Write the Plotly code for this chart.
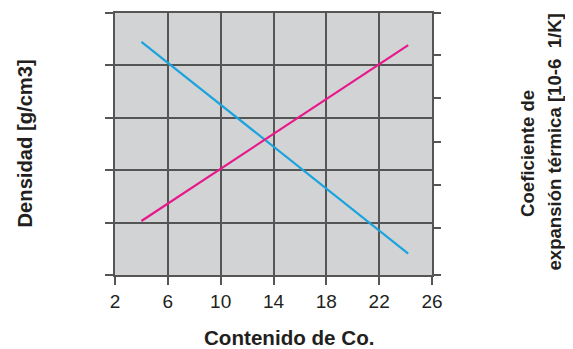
import plotly.graph_objects as go

# Data
co_content = [4.0, 24.2]
density = [4.45, 0.41]            # left axis (unlabelled units)
expansion = [1.17, 5.22]          # right axis (unlabelled units)
x_ticks = [2, 6, 10, 14, 18, 22, 26]
left_ticks = [0, 1, 2, 3, 4, 5]
right_ticks = [-0.074, 1, 2, 3, 4, 5, 5.96]

GRID = "#555555"
FONT = "Liberation Sans, Arial, Helvetica, sans-serif"
TXT = "#231f20"

fig = go.Figure()
fig.add_trace(go.Scatter(x=co_content, y=density, mode="lines",
                         line=dict(color="#1ba3dd", width=2.2), yaxis="y"))
fig.add_trace(go.Scatter(x=co_content, y=expansion, mode="lines",
                         line=dict(color="#e8178a", width=2.2), yaxis="y2"))

# page body has an 8px margin, so the figure is drawn 8px right/down
fig.update_layout(
    width=565, height=341,
    margin=dict(l=107, r=141, t=3, b=74),
    paper_bgcolor="white", plot_bgcolor="#d2d3d5",
    showlegend=False,
    font=dict(family=FONT, color=TXT),
    xaxis=dict(range=[2, 26], tickvals=x_ticks, ticktext=[str(v) for v in x_ticks],
               showgrid=True, gridcolor=GRID, gridwidth=1.5,
               showline=True, linecolor=GRID, linewidth=1.5, mirror=True,
               ticks="outside", ticklen=8, tickcolor=GRID, tickwidth=1.5,
               tickfont=dict(size=19, family=FONT), zeroline=False),
    yaxis=dict(range=[0, 5], tickvals=left_ticks, showticklabels=False,
               showgrid=True, gridcolor=GRID, gridwidth=1.5,
               showline=True, linecolor=GRID, linewidth=1.5,
               ticks="outside", ticklen=8, tickcolor=GRID, tickwidth=1.5,
               zeroline=False),
    yaxis2=dict(range=[right_ticks[0], right_ticks[-1]], tickvals=right_ticks,
                showticklabels=False, overlaying="y", side="right",
                showgrid=False, showline=True, linecolor=GRID, linewidth=1.5,
                ticks="outside", ticklen=7, tickcolor=GRID, tickwidth=1.5,
                zeroline=False),
)


def px_x(px):
    return (px - 115) / 317


def px_y(py):
    return (275 - py) / 264


fig.add_annotation(text="<b>Contenido de Co.</b>", xref="paper", yref="paper",
                   x=px_x(289), y=px_y(338), showarrow=False,
                   font=dict(size=20.6, family=FONT, color=TXT),
                   xanchor="center", yanchor="middle")
fig.add_annotation(text="<b>Densidad [g/cm3]</b>", xref="paper", yref="paper",
                   x=px_x(25), y=px_y(142.5), textangle=-90, showarrow=False,
                   font=dict(size=20.2, family=FONT, color=TXT),
                   xanchor="center", yanchor="middle")
fig.add_annotation(text="<b>Coeficiente de</b>", xref="paper", yref="paper",
                   x=px_x(528), y=px_y(153), textangle=-90, showarrow=False,
                   font=dict(size=18.6, family=FONT, color=TXT),
                   xanchor="center", yanchor="middle")
fig.add_annotation(text="<b>expansión térmica [10-6  1/K]</b>", xref="paper", yref="paper",
                   x=px_x(555), y=px_y(141.5), textangle=-90, showarrow=False,
                   font=dict(size=18.6, family=FONT, color=TXT),
                   xanchor="center", yanchor="middle")

fig.write_html("out.html")
